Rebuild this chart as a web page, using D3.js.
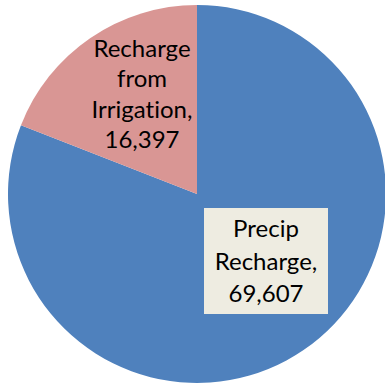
<!DOCTYPE html>
<html><head><meta charset="utf-8">
<script src="https://cdn.jsdelivr.net/npm/d3@7"></script>
<style>html,body{margin:0;padding:0;background:#fff;} text{font-variant-ligatures:none;font-feature-settings:"liga" 0;}</style>
</head><body>
<svg id="c" width="385" height="385"></svg>
<script>
const categories = ["Precip Recharge", "Recharge from Irrigation"];
const values = [69607, 16397];
const labelLines = [["Precip", "Recharge,", "69,607"], ["Recharge", "from", "Irrigation,", "16,397"]];
const colors = ["#4F81BD", "#D99694"];

const svg = d3.select("#c");
const cx = 197, cy = 194, r = 189;
const g = svg.append("g").attr("transform", `translate(${cx},${cy})`);
const pie = d3.pie().sort(null).value(d => d)(values);
const arc = d3.arc().innerRadius(0).outerRadius(r);
g.selectAll("path").data(pie).enter().append("path")
  .attr("d", arc).attr("fill", (d, i) => colors[i]);

const font = "Lato, 'Open Sans', sans-serif";
const fs = 24;
const lhs = [32.5, 30.5];
// label positions (centre of text block) relative to pie centre
const labelPos = [[69, 67.5], [-55, -100]];
labelPos.forEach((p, i) => {
  const lines = labelLines[i];
  const lh = lhs[i];
  const t = g.append("text").attr("font-family", font).attr("font-size", fs)
    .attr("fill", "#000").attr("text-anchor", "middle");
  const y0 = p[1] - (lines.length - 1) * lh / 2;
  lines.forEach((l, j) => {
    t.append("tspan").attr("x", p[0]).attr("y", y0 + j * lh).attr("dy", "0.35em").text(l);
  });
  if (i === 0) {
    g.insert("rect", "text").attr("x", 7).attr("y", 14).attr("width", 124).attr("height", 106)
      .attr("fill", "#EEECE1");
  }
});
</script>
</body></html>
